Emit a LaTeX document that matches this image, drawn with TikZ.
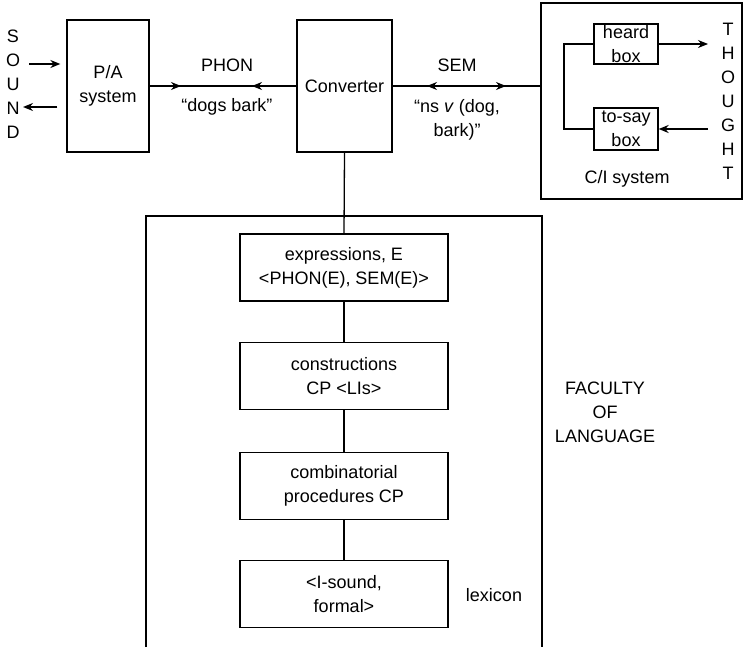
\documentclass[tikz,border=0pt]{standalone}
\usepackage{fontspec}
\setmainfont{Liberation Sans}
\usetikzlibrary{arrows.meta, positioning, calc}

\begin{document}
\begin{tikzpicture}[x=0.5pt, y=-0.5pt, line width=0.65pt,
  font=\fontsize{9}{12}\selectfont,
  box/.style={draw, rectangle, inner sep=0pt, align=center},
  fbox/.style={box, minimum width=104pt, minimum height=33.5pt},
  tip/.style={-{Stealth[length=5pt,width=4pt]}}]
\useasboundingbox (0,0) rectangle (743,647);

% Sound side
\node[align=center] (sound) at (13,84.5) {S\\O\\U\\N\\D};
\node[box, minimum width=41pt, minimum height=66pt] (pa) at (108,86) {P/A\\system};
\coordinate (sin) at (29,64);
\coordinate (sout) at (23,107);
\draw[tip, shorten >=3pt] (sin) -- (pa.west |- sin);
\draw[tip, shorten <=4.5pt] (pa.west |- sout) -- (sout);

% Converter
\node[box, minimum width=47.5pt, minimum height=66pt] (conv) at (344.5,86) {Converter};
\coordinate (phonr) at (181,86);
\coordinate (phonl) at (252,86);
\draw (pa.east) -- (conv.west);
\draw[tip] (pa.east) -- (phonr);
\draw[tip] (conv.west) -- (phonl);
\node (phon) at (227,65) {PHON};
\node (dogs) at (227,107) {“dogs bark”};

% C/I system
\node[draw, minimum width=100.5pt, minimum height=98pt] (ci) at (641.5,101) {};
\coordinate (semm) at (466,86);
\coordinate (seml) at (427,86);
\coordinate (semr) at (506,86);
\draw (conv.east) -- (ci.west |- conv.east);
\draw[tip] (semm) -- (seml);
\draw[tip] (semm) -- (semr);
\node (sem) at (457,65) {SEM};
\node[align=center] (semval) at (457,120) {“ns \emph{v} (dog,\\bark)”};
\node[box, minimum width=32pt, minimum height=20pt] (heard) at (626,44) {heard\\box};
\node[box, minimum width=32pt, minimum height=21pt] (tosay) at (626,129) {to-say\\box};
\coordinate (split) at (564,86);
\draw (heard.west) -| (split) |- (tosay.west);
\node[align=center] (thought) at (728,101) {T\\H\\O\\U\\G\\H\\T};
\coordinate (tout) at (708,44);
\coordinate (tin) at (708,129);
\draw[tip] (heard.east) -- (tout);
\draw[tip] (tin) -- (tosay.east);
\node (cilab) at (627,179) {C/I system};

% Faculty of language
\draw (146,647) |- (542,216) -- (542,647);
\node[align=center] (fol) at (605,412) {FACULTY\\OF\\LANGUAGE};
\node[fbox] (expr) at (344,267.5) {expressions, E\\<PHON(E), SEM(E)>};
\node[fbox] (cons) at (344,376) {constructions\\CP <LIs>};
\node[fbox] (comb) at (344,486) {combinatorial\\procedures CP};
\node[fbox] (lex) at (344,594) {<I-sound,\\formal>};
\node (lexlab) at (494,595) {lexicon};
\draw (conv.south) -- (expr.north);
\draw (expr) -- (cons);
\draw (cons) -- (comb);
\draw (comb) -- (lex);
\end{tikzpicture}
\end{document}
